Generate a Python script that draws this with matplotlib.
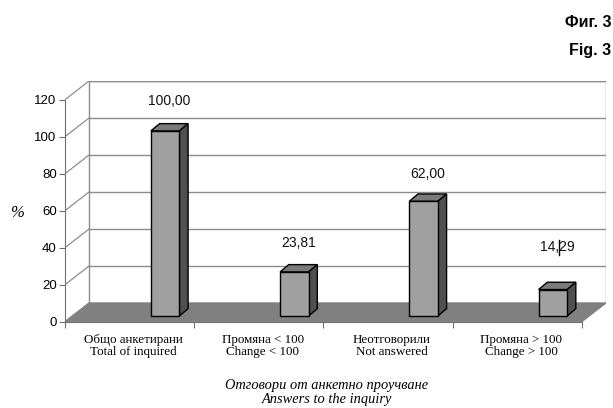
import numpy as np
import matplotlib
matplotlib.use("Agg")
import matplotlib.pyplot as plt
from matplotlib.patches import Polygon

# survey answers, percent
cat_bg = ["Общо анкетирани", "Промяна < 100", "Неотговорили", "Промяна > 100"]
cat_en = ["Total of inquired", "Change < 100", "Not answered", "Change > 100"]
values = [100.00, 23.81, 62.00, 14.29]
yticks = [0, 20, 40, 60, 80, 100, 120]

# label heights above each bar top (in % units)
label_pad = [16.0, 15.5, 15.0, 23.0]

# pseudo-3d geometry, data units
DX, DY = 0.186, 10.1        # depth of walls / floor
BDX, BDY = 0.067, 3.95      # depth of a single bar
BAR_W = 0.221
BAR_SHIFT = 0.275
BAR_BASE = 3.1
YMAX = 120

face_c = "#a0a0a0"
top_c = "#7a7a7a"
side_c = "#505050"
floor_c = "#808080"
grid_c = "#8c8c8c"

sans = "Liberation Sans"
serif = "Liberation Serif"

fig = plt.figure(figsize=(6.13, 4.08), dpi=100)
ax = fig.add_axes([0.106, 0.2115, 0.8826, 0.59])
ncat = len(values)
ax.set_xlim(0, ncat + DX)
ax.set_ylim(0, YMAX + DY)

# back wall with grid lines
ax.add_patch(Polygon([(DX, DY), (ncat + DX, DY), (ncat + DX, YMAX + DY), (DX, YMAX + DY)],
                     closed=True, facecolor="white", edgecolor=grid_c, lw=1.0, zorder=1))
for t in yticks:
    ax.plot([DX, ncat + DX], [t + DY, t + DY], color=grid_c, lw=1.0, zorder=1)
    # left wall
    ax.plot([0, DX], [t, t + DY], color=grid_c, lw=0.9, zorder=1)

# floor
ax.add_patch(Polygon([(0, 0), (ncat, 0), (ncat + DX, DY), (DX, DY)],
                     closed=True, facecolor=floor_c, edgecolor=floor_c, lw=0.8, zorder=2))

# bars
centers = np.arange(ncat) + 0.5 + BAR_SHIFT
ax.bar(centers, values, width=BAR_W, bottom=BAR_BASE, color=face_c,
       edgecolor="black", lw=1.0, zorder=4)
for c, v, pad in zip(centers, values, label_pad):
    l, r = c - BAR_W / 2, c + BAR_W / 2
    top = BAR_BASE + v
    ax.add_patch(Polygon([(l, top), (r, top), (r + BDX, top + BDY), (l + BDX, top + BDY)],
                         closed=True, facecolor=top_c, edgecolor="black", lw=1.0, zorder=3))
    ax.add_patch(Polygon([(r, BAR_BASE), (r + BDX, BAR_BASE + BDY), (r + BDX, top + BDY), (r, top)],
                         closed=True, facecolor=side_c, edgecolor="black", lw=1.0, zorder=3))
    lx = c + BDX / 2
    ly = top + pad
    ax.text(lx, ly, f"{v:.2f}".replace(".", ","), ha="center", va="center",
            fontsize=10, family=sans, color="#111111", zorder=6)

# stray text cursor over the last label
cur_x = centers[-1] + BDX / 2 + 0.012
cur_y = BAR_BASE + values[-1] + label_pad[-1]
ax.plot([cur_x, cur_x], [cur_y - 4.5, cur_y + 3.8], color="black", lw=1.0, zorder=7)

# axes
for s in ["top", "right"]:
    ax.spines[s].set_visible(False)
ax.spines["left"].set_bounds(0, YMAX)
ax.spines["left"].set_color("#707070")
ax.spines["bottom"].set_bounds(0, ncat)
ax.spines["bottom"].set_color("#707070")
ax.set_yticks(yticks)
ax.set_yticklabels([str(t) for t in yticks], fontsize=9.5, family=sans)
ax.tick_params(axis="y", length=4, color="#707070", pad=2)

ax.set_xticks(np.arange(ncat + 1))
ax.set_xticklabels([])
ax.set_xticks(np.arange(ncat) + 0.53, minor=True)
ax.set_xticklabels([f"{b}\n{e}" for b, e in zip(cat_bg, cat_en)], minor=True,
                   fontsize=9.4, family=serif, linespacing=1.0)
ax.tick_params(axis="x", which="major", length=4, color="#707070")
ax.tick_params(axis="x", which="minor", length=0, pad=9)

fig.text(0.533, 0.037, "Отговори от анкетно проучване\nAnswers to the inquiry",
         ha="center", va="center", fontsize=10.4, family=serif, style="italic",
         linespacing=1.1)
fig.text(0.028, 0.477, "%", ha="center", va="center", fontsize=12,
         family=serif, style="italic")
fig.text(0.997, 0.946, "Фиг. 3", ha="right", va="center", fontsize=11.5,
         family=sans, weight="bold")
fig.text(0.997, 0.875, "Fig. 3", ha="right", va="center", fontsize=11.5,
         family=sans, weight="bold")

fig.savefig("out.png", dpi=100)
